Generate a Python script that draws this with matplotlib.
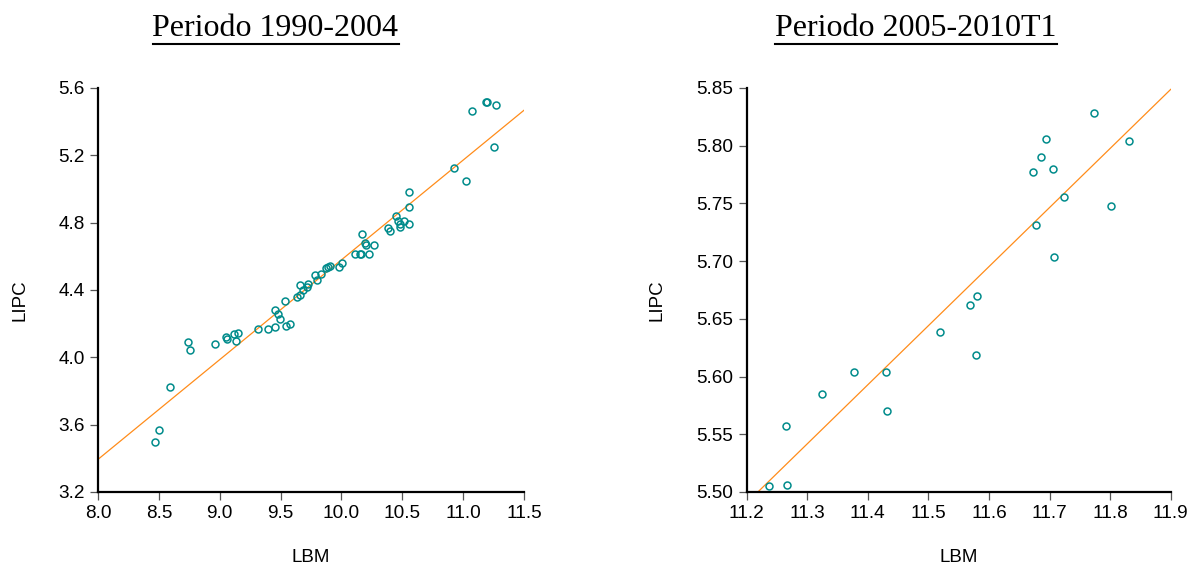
import numpy as np
import matplotlib
matplotlib.use("Agg")
import matplotlib.pyplot as plt
from matplotlib.lines import Line2D

# Periodo 1990-2004 (LBM, LIPC)
lbm_1 = [8.471, 8.504, 8.592, 8.742, 8.758, 8.964, 9.049, 9.057, 9.117, 9.150,
         9.134, 9.315, 9.397, 9.454, 9.542, 9.578, 9.452, 9.479, 9.493, 9.537,
         9.633, 9.660, 9.660, 9.682, 9.729, 9.720, 9.783, 9.800, 9.832, 9.871,
         9.887, 9.906, 9.977, 10.002, 10.114, 10.153, 10.164, 10.230, 10.173, 10.193,
         10.201, 10.266, 10.381, 10.402, 10.446, 10.465, 10.479, 10.481, 10.511, 10.555,
         10.553, 10.555, 10.923, 11.024, 11.073, 11.188, 11.192, 11.268, 11.252]
lipc_1 = [3.500, 3.571, 3.821, 4.092, 4.044, 4.078, 4.120, 4.108, 4.138, 4.145,
          4.100, 4.169, 4.171, 4.179, 4.187, 4.199, 4.282, 4.255, 4.225, 4.332,
          4.359, 4.368, 4.427, 4.399, 4.435, 4.415, 4.487, 4.457, 4.498, 4.528,
          4.534, 4.544, 4.538, 4.558, 4.611, 4.611, 4.611, 4.611, 4.732, 4.680,
          4.665, 4.665, 4.770, 4.750, 4.841, 4.811, 4.792, 4.774, 4.809, 4.792,
          4.893, 4.982, 5.126, 5.045, 5.465, 5.517, 5.519, 5.499, 5.248]

# Periodo 2005-2010T1 (LBM, LIPC)
lbm_2 = [11.237, 11.267, 11.265, 11.324, 11.377, 11.431, 11.432, 11.520, 11.568, 11.581,
         11.578, 11.708, 11.677, 11.724, 11.801, 11.672, 11.705, 11.686, 11.694, 11.774,
         11.832]
lipc_2 = [5.505, 5.506, 5.557, 5.585, 5.604, 5.604, 5.570, 5.639, 5.662, 5.670,
          5.619, 5.704, 5.731, 5.756, 5.748, 5.777, 5.780, 5.790, 5.806, 5.828,
          5.804]

# fitted lines: (intercept, slope)
fit_1 = (-1.347, 0.5926)
fit_2 = (-0.244, 0.512)

titles = ["Periodo 1990-2004", "Periodo 2005-2010T1"]
xticks_1 = np.arange(8.0, 11.51, 0.5)
yticks_1 = np.arange(3.2, 5.61, 0.4)
xticks_2 = np.arange(11.2, 11.91, 0.1)
yticks_2 = np.arange(5.50, 5.851, 0.05)

plt.rcParams['font.family'] = ['Liberation Sans', 'DejaVu Sans']

W, H = 1193, 570
fig = plt.figure(figsize=(W / 100, H / 100), dpi=100)

def px_axes(x0, x1, y0, y1):
    return fig.add_axes([x0 / W, 1 - y1 / H, (x1 - x0) / W, (y1 - y0) / H])

ax1 = px_axes(98, 524, 88, 492)
ax2 = px_axes(746.5, 1170.7, 88, 492)

teal = "#008B8B"
orange = "#FF8C1A"

panels = [
    (ax1, lbm_1, lipc_1, fit_1, xticks_1, yticks_1, "%.1f", "%.1f", -0.183),
    (ax2, lbm_2, lipc_2, fit_2, xticks_2, yticks_2, "%.1f", "%.2f", -0.211),
]

for ax, x, y, fit, xt, yt, xf, yf, ylab_x in panels:
    xlim = (xt[0], xt[-1])
    ylim = (yt[0], yt[-1])
    xx = np.array(xlim)
    ax.plot(xx, fit[0] + fit[1] * xx, color=orange, lw=0.9, zorder=2)
    ax.plot(x, y, 'o', ms=5, mfc='none', mec=teal, mew=1.1, zorder=3, clip_on=False)
    ax.set_xlim(xlim)
    ax.set_ylim(ylim)
    ax.set_xticks(xt)
    ax.set_yticks(yt)
    ax.set_xticklabels([xf % v for v in xt])
    ax.set_yticklabels([yf % v for v in yt])
    for s in ['top', 'right']:
        ax.spines[s].set_visible(False)
    for s in ['left', 'bottom']:
        ax.spines[s].set_linewidth(1.6)
        ax.spines[s].set_color('black')
    ax.tick_params(direction='out', length=6, width=0.9, color='#555555',
                   labelsize=13.7, pad=3.5)
    ax.set_xlabel("LBM", fontsize=13.5)
    ax.set_ylabel("LIPC", fontsize=13.5)
    ax.xaxis.set_label_coords(0.5, -0.163)
    ax.xaxis.label.set_va('center')
    ax.yaxis.set_label_coords(ylab_x, 0.475)
    ax.yaxis.label.set_va('center')

# titles with underline
title_pos = [(275.5, 28), (916, 28)]
texts = []
for (tx, ty), t in zip(title_pos, titles):
    texts.append(fig.text(tx / W, 1 - ty / H, t, ha='center', va='center',
                          fontsize=23, family='Liberation Serif'))

fig.canvas.draw()
r = fig.canvas.get_renderer()
for t in texts:
    bb = t.get_window_extent(renderer=r)
    yline = bb.y0 - 1
    fig.add_artist(Line2D([bb.x0 / W, bb.x1 / W], [yline / H, yline / H],
                          transform=fig.transFigure, color='black', lw=1.5))

fig.savefig("out.png", dpi=100)
